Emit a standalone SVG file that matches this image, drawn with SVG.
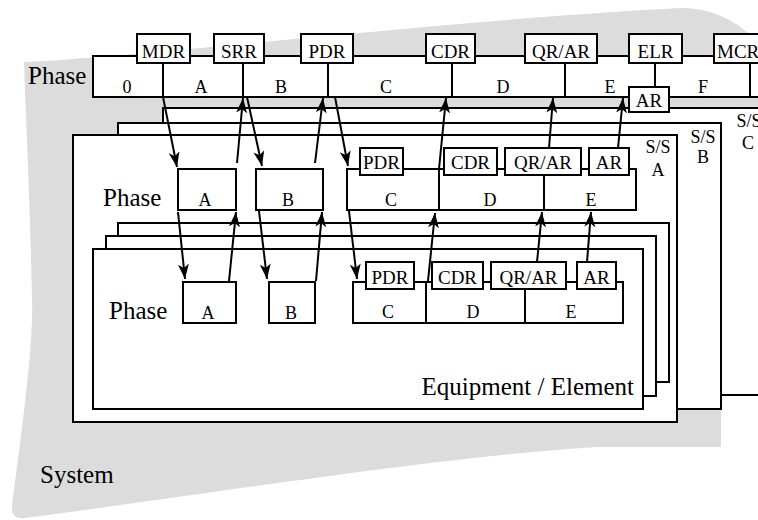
<svg xmlns="http://www.w3.org/2000/svg" width="758" height="520" viewBox="0 0 758 520">
<defs>
<marker id="ah" markerUnits="userSpaceOnUse" markerWidth="16" markerHeight="12" refX="15" refY="5.5" orient="auto">
<path d="M0,0 L15,5.5 L0,11 L4,5.5 Z" fill="#000"/>
</marker>
<style>
.b{fill:#fff;stroke:#000;stroke-width:2}
.l{stroke:#000;stroke-width:2;fill:none}
.a{stroke:#000;stroke-width:2;fill:none;marker-end:url(#ah)}
text{font-family:"Liberation Serif","Times New Roman",serif;fill:#000}
.t{font-size:19px;text-anchor:middle}
.s{font-size:18px;text-anchor:middle}
.big{font-size:25px}
</style>
</defs>
<path id="system-bg" d="M24,62 C150,56 450,20 680,8 C700,7 730,15 750,35 L800,80 L800,395 L721,395 L721,447 L600,447 C450,455 200,495 25,518 Q10,520 12,505 C22,430 34,340 32,300 C30,200 26,120 24,62 Z" fill="#dcdcdc"/>
<text class="big" x="40" y="483">System</text>

<g id="phase-bar">
<rect class="b" x="93" y="56" width="720" height="41"/>
<line class="l" x1="163" y1="63" x2="163" y2="97"/>
<line class="l" x1="243" y1="63" x2="243" y2="97"/>
<line class="l" x1="328" y1="63" x2="328" y2="97"/>
<line class="l" x1="452" y1="63" x2="452" y2="97"/>
<line class="l" x1="565" y1="63" x2="565" y2="97"/>
<line class="l" x1="655" y1="63" x2="655" y2="87"/>
<line class="l" x1="750" y1="63" x2="750" y2="97"/>
<text class="big" x="28" y="84">Phase</text>
<text class="s" x="127" y="93">0</text>
<text class="s" x="201" y="93">A</text>
<text class="s" x="281" y="93">B</text>
<text class="s" x="386" y="93">C</text>
<text class="s" x="503" y="93">D</text>
<text class="s" x="610" y="93">E</text>
<text class="s" x="703" y="93">F</text>
</g>

<g id="ss-c">
<rect class="b" x="163" y="108" width="640" height="287"/>
<text class="s" x="749" y="127">S/S</text>
<text class="s" x="748" y="149">C</text>
</g>
<g id="ss-b">
<rect class="b" x="118" y="123" width="603" height="286"/>
<text class="s" x="703" y="143">S/S</text>
<text class="s" x="703" y="163">B</text>
</g>
<g id="ss-a">
<rect class="b" x="73" y="135" width="604" height="287"/>
<text class="s" x="658" y="153">S/S</text>
<text class="s" x="658" y="176">A</text>
</g>

<g id="top-mdr"><rect class="b" x="137" y="34" width="53" height="29"/><text class="t" x="163.5" y="58">MDR</text></g>
<g id="top-srr"><rect class="b" x="214" y="34" width="50" height="29"/><text class="t" x="239" y="58">SRR</text></g>
<g id="top-pdr"><rect class="b" x="301" y="34" width="52" height="29"/><text class="t" x="327" y="58">PDR</text></g>
<g id="top-cdr"><rect class="b" x="426" y="34" width="49" height="29"/><text class="t" x="450.5" y="58">CDR</text></g>
<g id="top-qrar"><rect class="b" x="525" y="34" width="72" height="29"/><text class="t" x="561" y="58">QR/AR</text></g>
<g id="top-elr"><rect class="b" x="629" y="34" width="53" height="29"/><text class="t" x="655.5" y="58">ELR</text></g>
<g id="top-mcr"><rect class="b" x="714" y="34" width="70" height="29"/><text class="t" x="717" y="58" style="text-anchor:start">MCR</text></g>
<g id="top-ar"><rect class="b" x="629" y="87" width="40" height="25"/><text class="t" x="649" y="107">AR</text></g>

<g id="ssa-row">
<text class="big" x="103" y="206">Phase</text>
<rect class="b" x="178" y="169" width="58" height="41"/><text class="s" x="205" y="206">A</text>
<rect class="b" x="256" y="169" width="67" height="41"/><text class="s" x="288" y="206">B</text>
<rect class="b" x="347" y="169" width="289" height="41"/>
<line class="l" x1="439" y1="169" x2="439" y2="210"/>
<line class="l" x1="544" y1="175" x2="544" y2="210"/>
<text class="s" x="391" y="206">C</text>
<text class="s" x="490" y="206">D</text>
<text class="s" x="591" y="206">E</text>
<rect class="b" x="360" y="148" width="43" height="27"/><text class="t" x="381.5" y="169">PDR</text>
<rect class="b" x="444" y="148" width="53" height="27"/><text class="t" x="470.5" y="169">CDR</text>
<rect class="b" x="505" y="148" width="76" height="27"/><text class="t" x="543" y="169">QR/AR</text>
<rect class="b" x="589" y="148" width="40" height="27"/><text class="t" x="609" y="169">AR</text>
</g>

<g id="equip-back"><rect class="b" x="118" y="223" width="551" height="159"/></g>
<g id="equip-mid"><rect class="b" x="106" y="236" width="550" height="160"/></g>
<g id="equip-front">
<rect class="b" x="93" y="249" width="550" height="160"/>
<text class="big" x="634" y="395" style="text-anchor:end">Equipment / Element</text>
<text class="big" x="109" y="319">Phase</text>
<rect class="b" x="183" y="282" width="53" height="41"/><text class="s" x="208" y="319">A</text>
<rect class="b" x="269" y="282" width="46" height="41"/><text class="s" x="291" y="319">B</text>
<rect class="b" x="353" y="282" width="270" height="41"/>
<line class="l" x1="426" y1="282" x2="426" y2="323"/>
<line class="l" x1="525" y1="289" x2="525" y2="323"/>
<text class="s" x="388" y="318">C</text>
<text class="s" x="473" y="318">D</text>
<text class="s" x="571" y="318">E</text>
<rect class="b" x="366" y="262" width="48" height="27"/><text class="t" x="390" y="284">PDR</text>
<rect class="b" x="432" y="262" width="51" height="27"/><text class="t" x="457.5" y="284">CDR</text>
<rect class="b" x="491" y="262" width="75" height="27"/><text class="t" x="528.5" y="284">QR/AR</text>
<rect class="b" x="577" y="262" width="39" height="27"/><text class="t" x="596.5" y="284">AR</text>
</g>

<g id="connectors">
<line class="a" x1="163" y1="97" x2="177" y2="167"/>
<line class="a" x1="237" y1="163" x2="243" y2="98"/>
<line class="a" x1="247" y1="97" x2="262" y2="166"/>
<line class="a" x1="315" y1="163" x2="323" y2="98"/>
<line class="a" x1="335" y1="97" x2="348" y2="166"/>
<line class="a" x1="439" y1="169" x2="446" y2="98"/>
<line class="a" x1="549" y1="148" x2="553" y2="98"/>
<line class="a" x1="618" y1="148" x2="623" y2="98"/>
<line class="a" x1="178" y1="212" x2="185" y2="279"/>
<line class="a" x1="229" y1="281" x2="236" y2="212"/>
<line class="a" x1="259" y1="211" x2="267" y2="279"/>
<line class="a" x1="316" y1="281" x2="322" y2="212"/>
<line class="a" x1="349" y1="211" x2="357" y2="279"/>
<line class="a" x1="428" y1="281" x2="435" y2="213"/>
<line class="a" x1="537" y1="262" x2="542" y2="212"/>
<line class="a" x1="587" y1="262" x2="591" y2="212"/>
</g>
</svg>
